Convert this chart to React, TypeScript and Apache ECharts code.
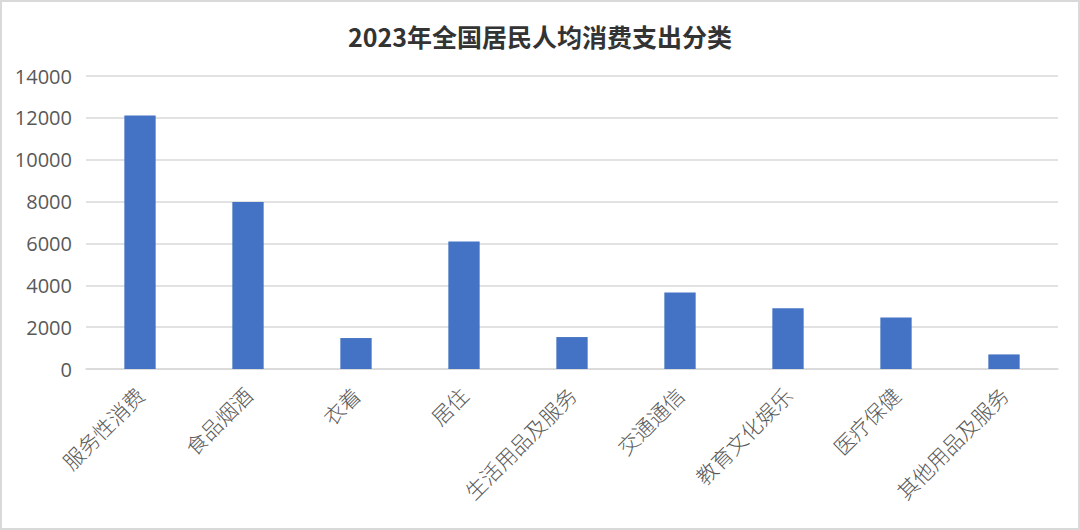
import * as echarts from 'echarts';
import { useEffect, useRef } from 'react';

// 分类与数值（元）
const categories = [
  '服务性消费',
  '食品烟酒',
  '衣着',
  '居住',
  '生活用品及服务',
  '交通通信',
  '教育文化娱乐',
  '医疗保健',
  '其他用品及服务',
];
const values = [12114, 7983, 1479, 6095, 1526, 3652, 2904, 2460, 697];

const getChartOptions = (): echarts.EChartsOption => ({
  animation: false,
  title: {
    text: '2023年全国居民人均消费支出分类',
    left: 'center',
    top: 16,
    textStyle: {
      fontFamily: '"Noto Sans CJK SC", sans-serif',
      fontSize: 25,
      fontWeight: 'bold',
      color: '#333333',
    },
  },
  grid: {
    left: 84,
    right: 20,
    top: 74,
    bottom: 159,
  },
  xAxis: {
    type: 'category',
    data: categories,
    axisTick: { show: false },
    axisLine: { lineStyle: { color: '#d9d9d9', width: 1.5 } },
    axisLabel: {
      rotate: 45,
      interval: 0,
      margin: 22,
      color: '#595959',
      fontSize: 21,
      fontFamily: '"Noto Sans CJK SC", sans-serif',
      fontWeight: 300,
    },
  },
  yAxis: {
    type: 'value',
    min: 0,
    max: 14000,
    interval: 2000,
    axisLine: { show: false },
    axisTick: { show: false },
    axisLabel: {
      color: '#595959',
      fontSize: 20,
      margin: 14,
      fontFamily: '"Open Sans", "Noto Sans", sans-serif',
      formatter: (v: number) => String(v),
    },
    splitLine: { lineStyle: { color: '#d9d9d9', width: 1.5 } },
  },
  series: [
    {
      type: 'bar',
      data: values,
      barWidth: '29%',
      itemStyle: { color: '#4472C4' },
    },
  ],
});

export default function App() {
  const chartRef = useRef<HTMLDivElement>(null);

  useEffect(() => {
    if (!chartRef.current) return;
    document.body.style.margin = '0';
    const chart = echarts.init(chartRef.current, undefined, { renderer: 'svg' });
    chart.setOption(getChartOptions());
    return () => {
      chart.dispose();
    };
  }, []);

  return (
    <div
      style={{
        position: 'fixed',
        left: 0,
        top: 0,
        width: 1080,
        height: 530,
        boxSizing: 'border-box',
        border: '2px solid #d9d9d9',
        background: '#ffffff',
      }}
    >
      <div ref={chartRef} style={{ width: 1076, height: 526 }} />
    </div>
  );
}
